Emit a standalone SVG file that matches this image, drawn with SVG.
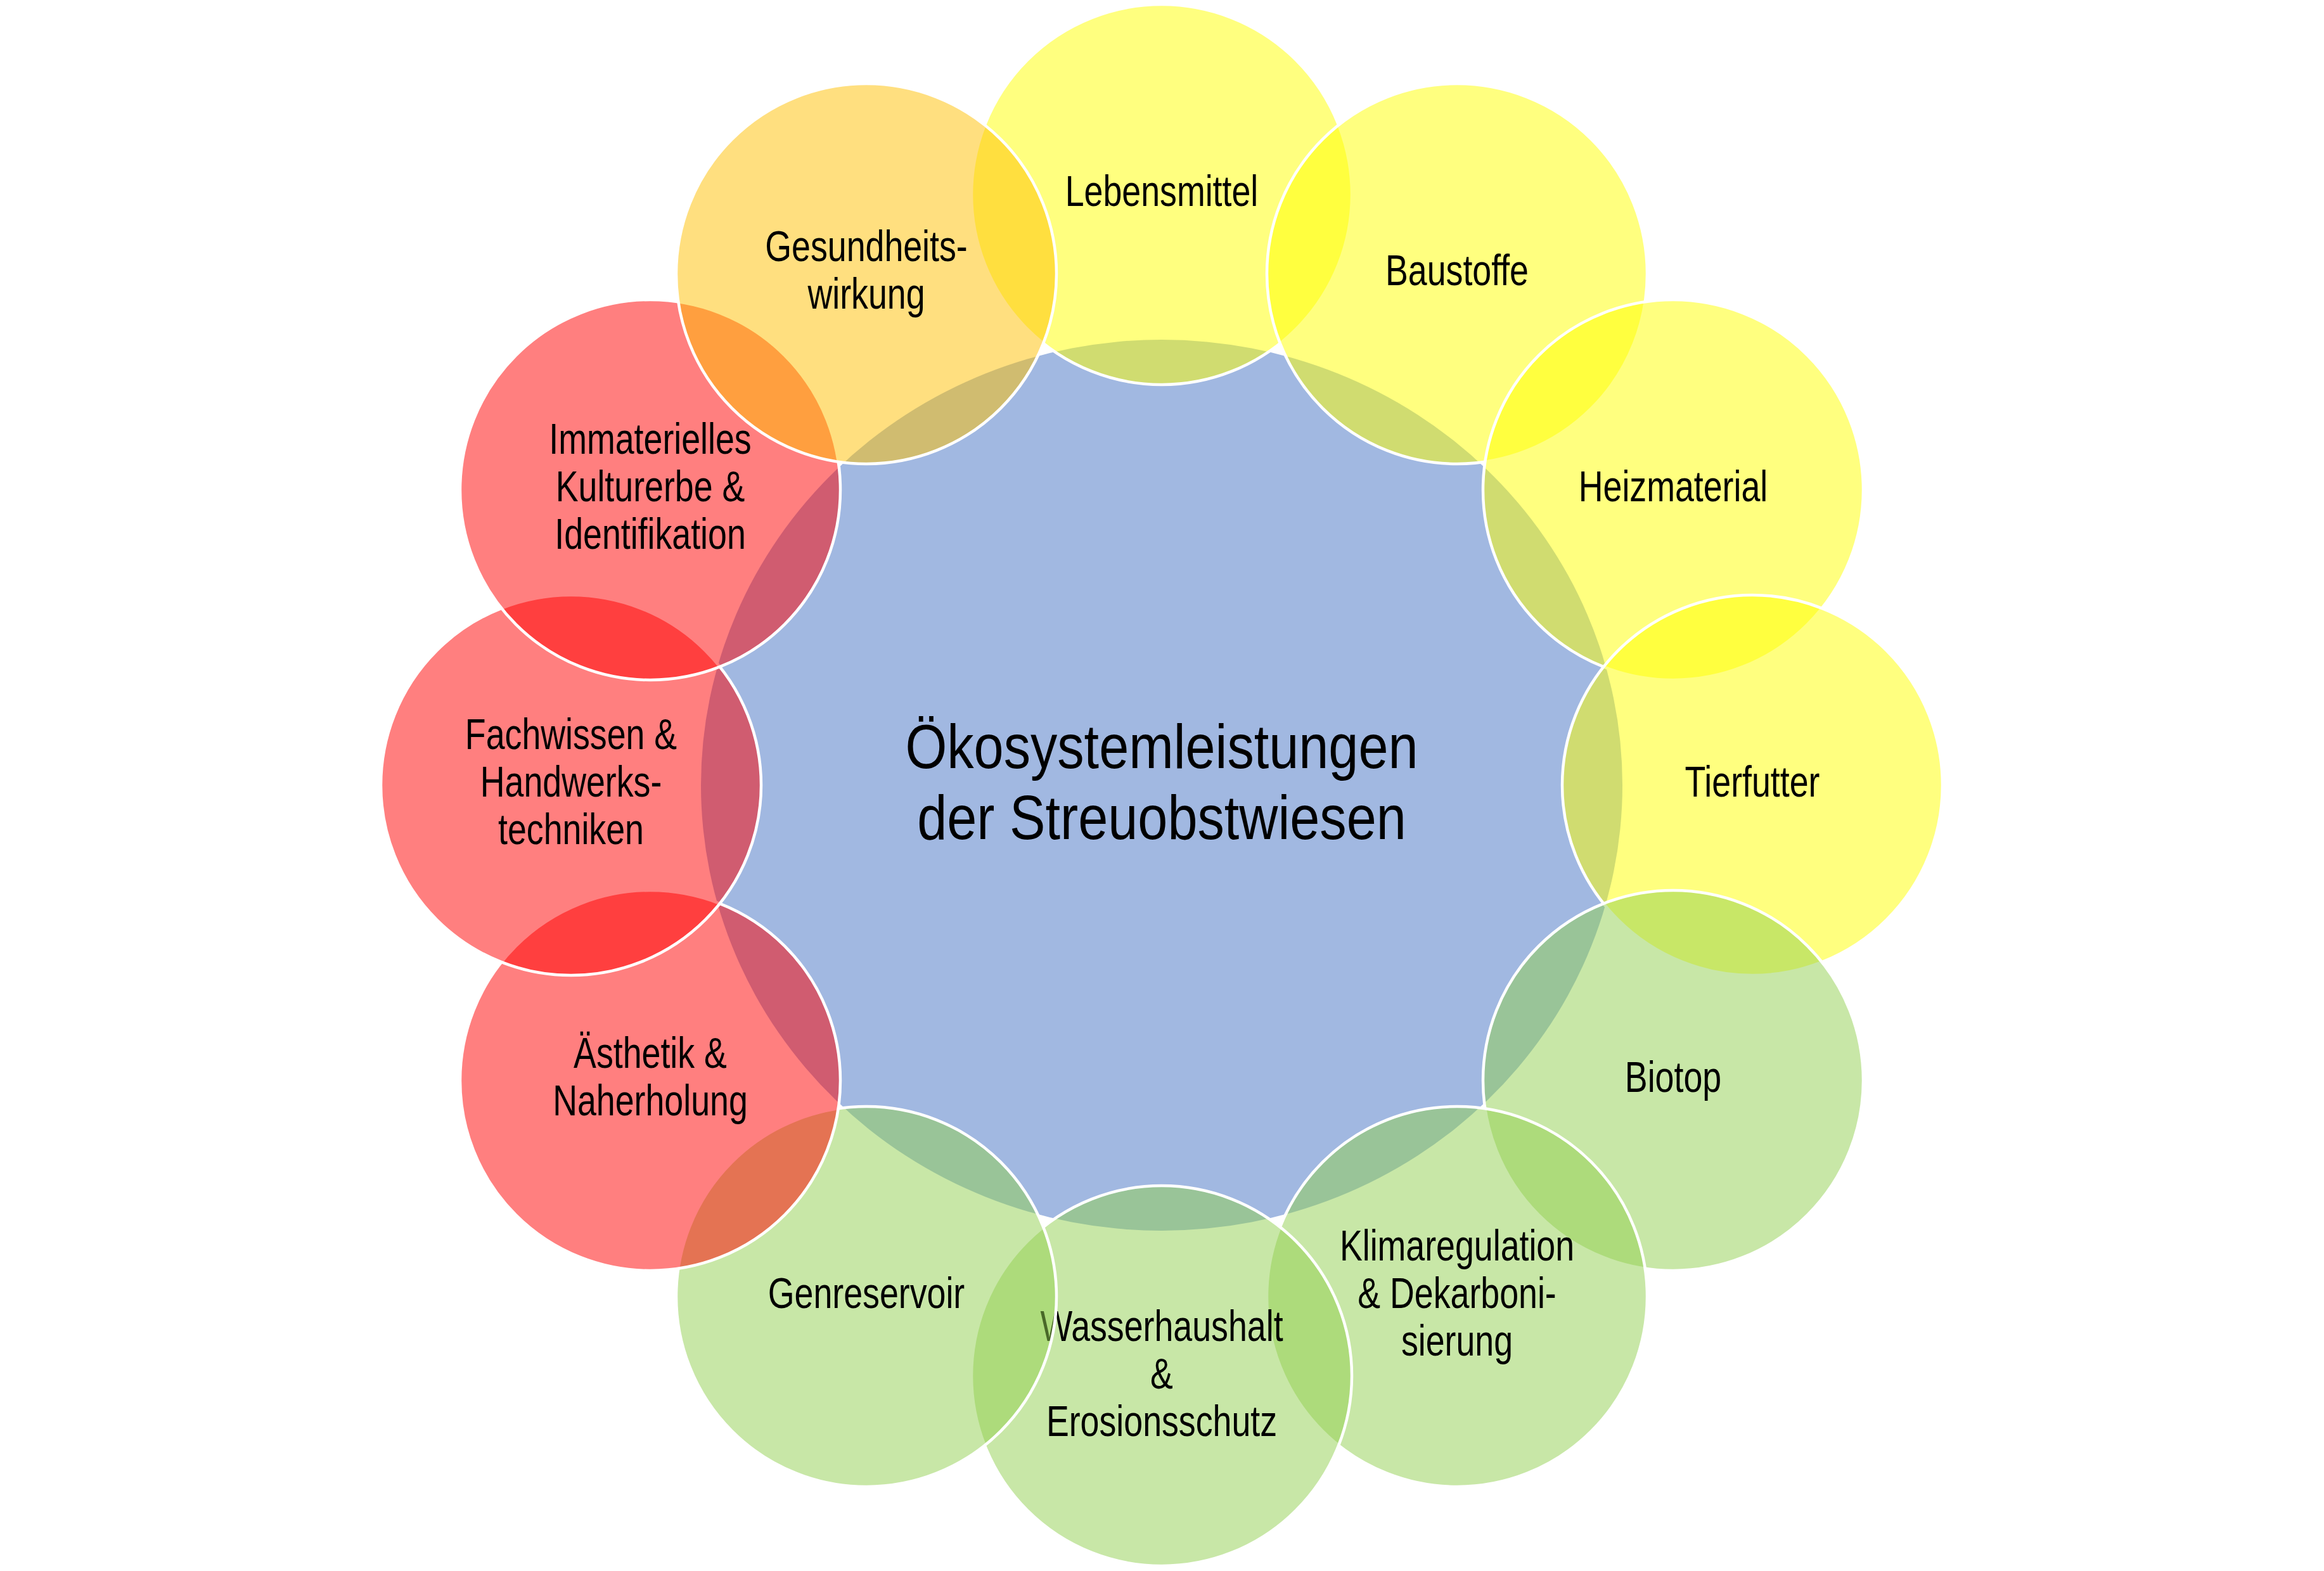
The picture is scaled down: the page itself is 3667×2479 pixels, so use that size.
<svg xmlns="http://www.w3.org/2000/svg" width="3667" height="2479" viewBox="0 0 3667 2479">
<style>
  .bg { fill: #ffffff; }
  .center { fill: #4472C4; fill-opacity: 0.5; stroke: none; }
  .c { stroke: #ffffff; stroke-width: 4.5; fill-opacity: 0.5; }
  .yellow { fill: #FFFF00; }
  .green { fill: #92D050; }
  .red { fill: #FF0000; }
  .gold { fill: #FFC000; }
  .lbl { font-family: "Liberation Sans", Arial, sans-serif; font-size: 68px; fill: #000000; text-anchor: middle; }
  .title { font-family: "Liberation Sans", Arial, sans-serif; font-size: 99px; fill: #000000; text-anchor: middle; }
</style>
<rect class="bg" x="0" y="0" width="3667" height="2479"/>
<g id="node-center">
  <ellipse class="center" cx="1833" cy="1239" rx="727" ry="703"/>
  <text class="title" transform="translate(1833 0) scale(0.855 1)"><tspan x="0" y="1212">Ökosystemleistungen</tspan><tspan x="0" y="1324">der Streuobstwiesen</tspan></text>
</g>
<g id="connectors"></g>
<g id="node-lebensmittel">
  <circle class="c yellow" cx="1833" cy="307" r="300"/>
  <text class="lbl" transform="translate(1833 0) scale(0.79 1)"><tspan x="0" y="325">Lebensmittel</tspan></text>
</g>
<g id="node-baustoffe">
  <circle class="c yellow" cx="2299" cy="432" r="300"/>
  <text class="lbl" transform="translate(2299 0) scale(0.79 1)"><tspan x="0" y="450">Baustoffe</tspan></text>
</g>
<g id="node-heizmaterial">
  <circle class="c yellow" cx="2640" cy="773" r="300"/>
  <text class="lbl" transform="translate(2640 0) scale(0.79 1)"><tspan x="0" y="791">Heizmaterial</tspan></text>
</g>
<g id="node-tierfutter">
  <circle class="c yellow" cx="2765" cy="1239" r="300"/>
  <text class="lbl" transform="translate(2765 0) scale(0.79 1)"><tspan x="0" y="1257">Tierfutter</tspan></text>
</g>
<g id="node-biotop">
  <circle class="c green" cx="2640" cy="1705" r="300"/>
  <text class="lbl" transform="translate(2640 0) scale(0.79 1)"><tspan x="0" y="1723">Biotop</tspan></text>
</g>
<g id="node-klima">
  <circle class="c green" cx="2299" cy="2046" r="300"/>
  <text class="lbl" transform="translate(2299 0) scale(0.79 1)"><tspan x="0" y="1989">Klimaregulation</tspan><tspan x="0" y="2064">&amp; Dekarboni-</tspan><tspan x="0" y="2139">sierung</tspan></text>
</g>
<g id="node-wasser">
  <circle class="c green" cx="1833" cy="2171" r="300"/>
  <text class="lbl" transform="translate(1833 0) scale(0.79 1)"><tspan x="0" y="2116">Wasserhaushalt</tspan><tspan x="0" y="2191">&amp;</tspan><tspan x="0" y="2266">Erosionsschutz</tspan></text>
</g>
<g id="node-genreservoir">
  <circle class="c green" cx="1367" cy="2046" r="300"/>
  <text class="lbl" transform="translate(1367 0) scale(0.79 1)"><tspan x="0" y="2064">Genreservoir</tspan></text>
</g>
<g id="node-aesthetik">
  <circle class="c red" cx="1026" cy="1705" r="300"/>
  <text class="lbl" transform="translate(1026 0) scale(0.79 1)"><tspan x="0" y="1685">Ästhetik &amp;</tspan><tspan x="0" y="1760">Naherholung</tspan></text>
</g>
<g id="node-fachwissen">
  <circle class="c red" cx="901" cy="1239" r="300"/>
  <text class="lbl" transform="translate(901 0) scale(0.79 1)"><tspan x="0" y="1182">Fachwissen &amp;</tspan><tspan x="0" y="1257">Handwerks-</tspan><tspan x="0" y="1332">techniken</tspan></text>
</g>
<g id="node-immaterielles">
  <circle class="c red" cx="1026" cy="773" r="300"/>
  <text class="lbl" transform="translate(1026 0) scale(0.79 1)"><tspan x="0" y="716">Immaterielles</tspan><tspan x="0" y="791">Kulturerbe &amp;</tspan><tspan x="0" y="866">Identifikation</tspan></text>
</g>
<g id="node-gesundheit">
  <circle class="c gold" cx="1367" cy="432" r="300"/>
  <text class="lbl" transform="translate(1367 0) scale(0.79 1)"><tspan x="0" y="412">Gesundheits-</tspan><tspan x="0" y="487">wirkung</tspan></text>
</g>
</svg>
